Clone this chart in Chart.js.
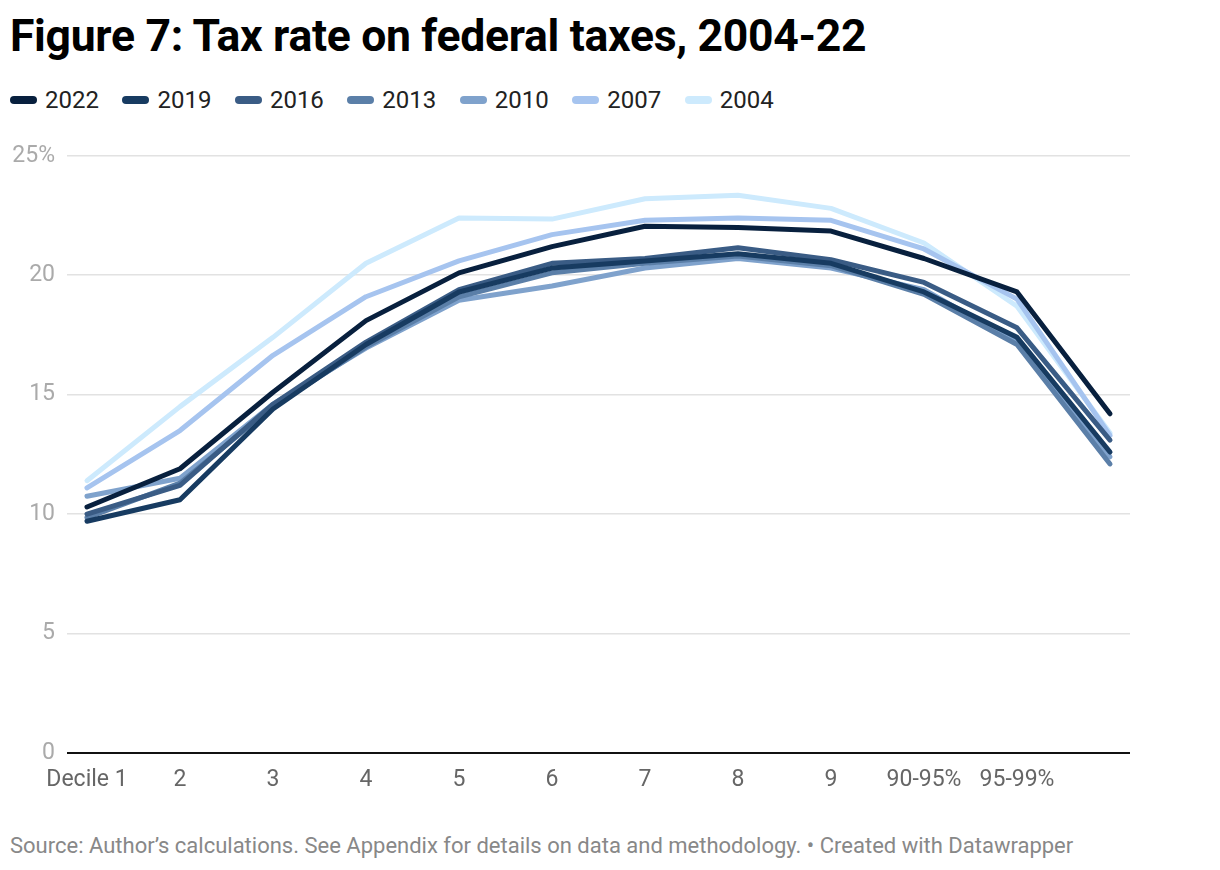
<!DOCTYPE html>
<html>
<head>
<meta charset="utf-8">
<script src="https://cdn.jsdelivr.net/npm/chart.js@4.4.1/dist/chart.umd.min.js"></script>
<style>
  html, body { margin:0; padding:0; background:#fff; width:1220px; height:870px; overflow:hidden; font-family: Roboto, "Noto Sans", sans-serif; }
  #title { position:absolute; left:10px; top:10px; font-size:44.5px; font-weight:700; color:#000; letter-spacing:-0.3px; white-space:nowrap; }
  #legend { position:absolute; left:10px; top:86px; display:flex; font-size:24px; color:#222; }
  .item { display:flex; align-items:center; margin-right:23.5px; }
  .sw { width:27px; height:8px; border-radius:4px; margin-right:8px; }
  #wrap { position:absolute; left:0; top:130px; width:1220px; height:680px; }
  #source { position:absolute; left:10px; top:833px; font-size:22px; color:#888; white-space:nowrap; }
</style>
</head>
<body>
<div id="title">Figure 7: Tax rate on federal taxes, 2004-22</div>
<div id="legend"></div>
<div id="wrap"><canvas id="c"></canvas></div>
<div id="source">Source: Author’s calculations. See Appendix for details on data and methodology. • Created with Datawrapper</div>
<script>
const categories = ['Decile 1','2','3','4','5','6','7','8','9','90-95%','95-99%','Top 1%'];
const tickLabels = ['Decile 1','2','3','4','5','6','7','8','9','90-95%','95-99%',''];
const years = ['2022','2019','2016','2013','2010','2007','2004'];
const colors = ['#08203e','#173b61','#3a5c85','#5b7fa8','#7fa2cc','#a6c4ef','#cdeafd'];
const y2022 = [10.3, 11.9, 15.1, 18.1, 20.1, 21.2, 22.05, 22.0, 21.85, 20.7, 19.3, 14.2];
const y2019 = [9.7, 10.6, 14.4, 17.1, 19.3, 20.3, 20.6, 20.9, 20.5, 19.3, 17.4, 12.6];
const y2016 = [10.0, 11.2, 14.6, 17.2, 19.4, 20.5, 20.7, 21.15, 20.65, 19.7, 17.8, 13.1];
const y2013 = [9.85, 11.3, 14.5, 17.0, 19.1, 20.1, 20.5, 20.8, 20.4, 19.2, 17.1, 12.1];
const y2010 = [10.75, 11.5, 14.6, 16.95, 18.95, 19.55, 20.3, 20.7, 20.3, 19.4, 17.2, 12.4];
const y2007 = [11.1, 13.5, 16.65, 19.1, 20.6, 21.7, 22.3, 22.4, 22.3, 21.1, 19.0, 13.3];
const y2004 = [11.4, 14.5, 17.4, 20.5, 22.4, 22.35, 23.2, 23.35, 22.8, 21.35, 18.7, 13.4];
const yTicks = [0, 5, 10, 15, 20, 25];

const series = [y2022, y2019, y2016, y2013, y2010, y2007, y2004];

const legend = document.getElementById('legend');
years.forEach((yr, i) => {
  const it = document.createElement('div'); it.className = 'item';
  const sw = document.createElement('div'); sw.className = 'sw'; sw.style.background = colors[i];
  const tx = document.createElement('span'); tx.textContent = yr;
  it.appendChild(sw); it.appendChild(tx); legend.appendChild(it);
});

const datasets = series.map((vals, i) => ({
  label: years[i],
  data: vals.map((v, j) => ({x: j, y: v})),
  borderColor: colors[i],
  backgroundColor: colors[i],
  borderWidth: 5,
  pointRadius: 0,
  tension: 0,
  borderJoinStyle: 'round',
  borderCapStyle: 'round',
  fill: false
}));

new Chart(document.getElementById('c'), {
  type: 'line',
  data: { datasets },
  options: {
    responsive: true,
    maintainAspectRatio: false,
    animation: false,
    layout: { padding: { top: 25, right: 90, left: 0, bottom: 0 } },
    plugins: { legend: { display: false }, tooltip: { enabled: false } },
    scales: {
      x: {
        type: 'linear',
        min: -0.215,
        max: 11.215,
        afterFit: s => { s.height = 57; },
        afterBuildTicks: s => { s.ticks = tickLabels.map((t, i) => ({ value: i })).filter((t, i) => tickLabels[i] !== ''); },
        grid: { display: false, drawTicks: false },
        border: { display: false },
        ticks: {
          autoSkip: false, maxRotation: 0, padding: 13,
          color: '#666', font: { family: 'Roboto', size: 23 },
          callback: v => tickLabels[v]
        }
      },
      y: {
        min: 0, max: 25,
        afterFit: s => { s.width = 67; },
        afterBuildTicks: s => { s.ticks = yTicks.map(v => ({ value: v })); },
        grid: {
          drawTicks: false,
          color: c => c.tick && c.tick.value === 0 ? '#111' : '#e2e2e2',
          lineWidth: c => c.tick && c.tick.value === 0 ? 2 : 1.5
        },
        border: { display: false },
        ticks: {
          padding: 12, color: '#aaa', font: { family: 'Roboto', size: 23 },
          callback: v => v === 25 ? '25%' : String(v)
        }
      }
    }
  }
});
</script>
</body>
</html>
